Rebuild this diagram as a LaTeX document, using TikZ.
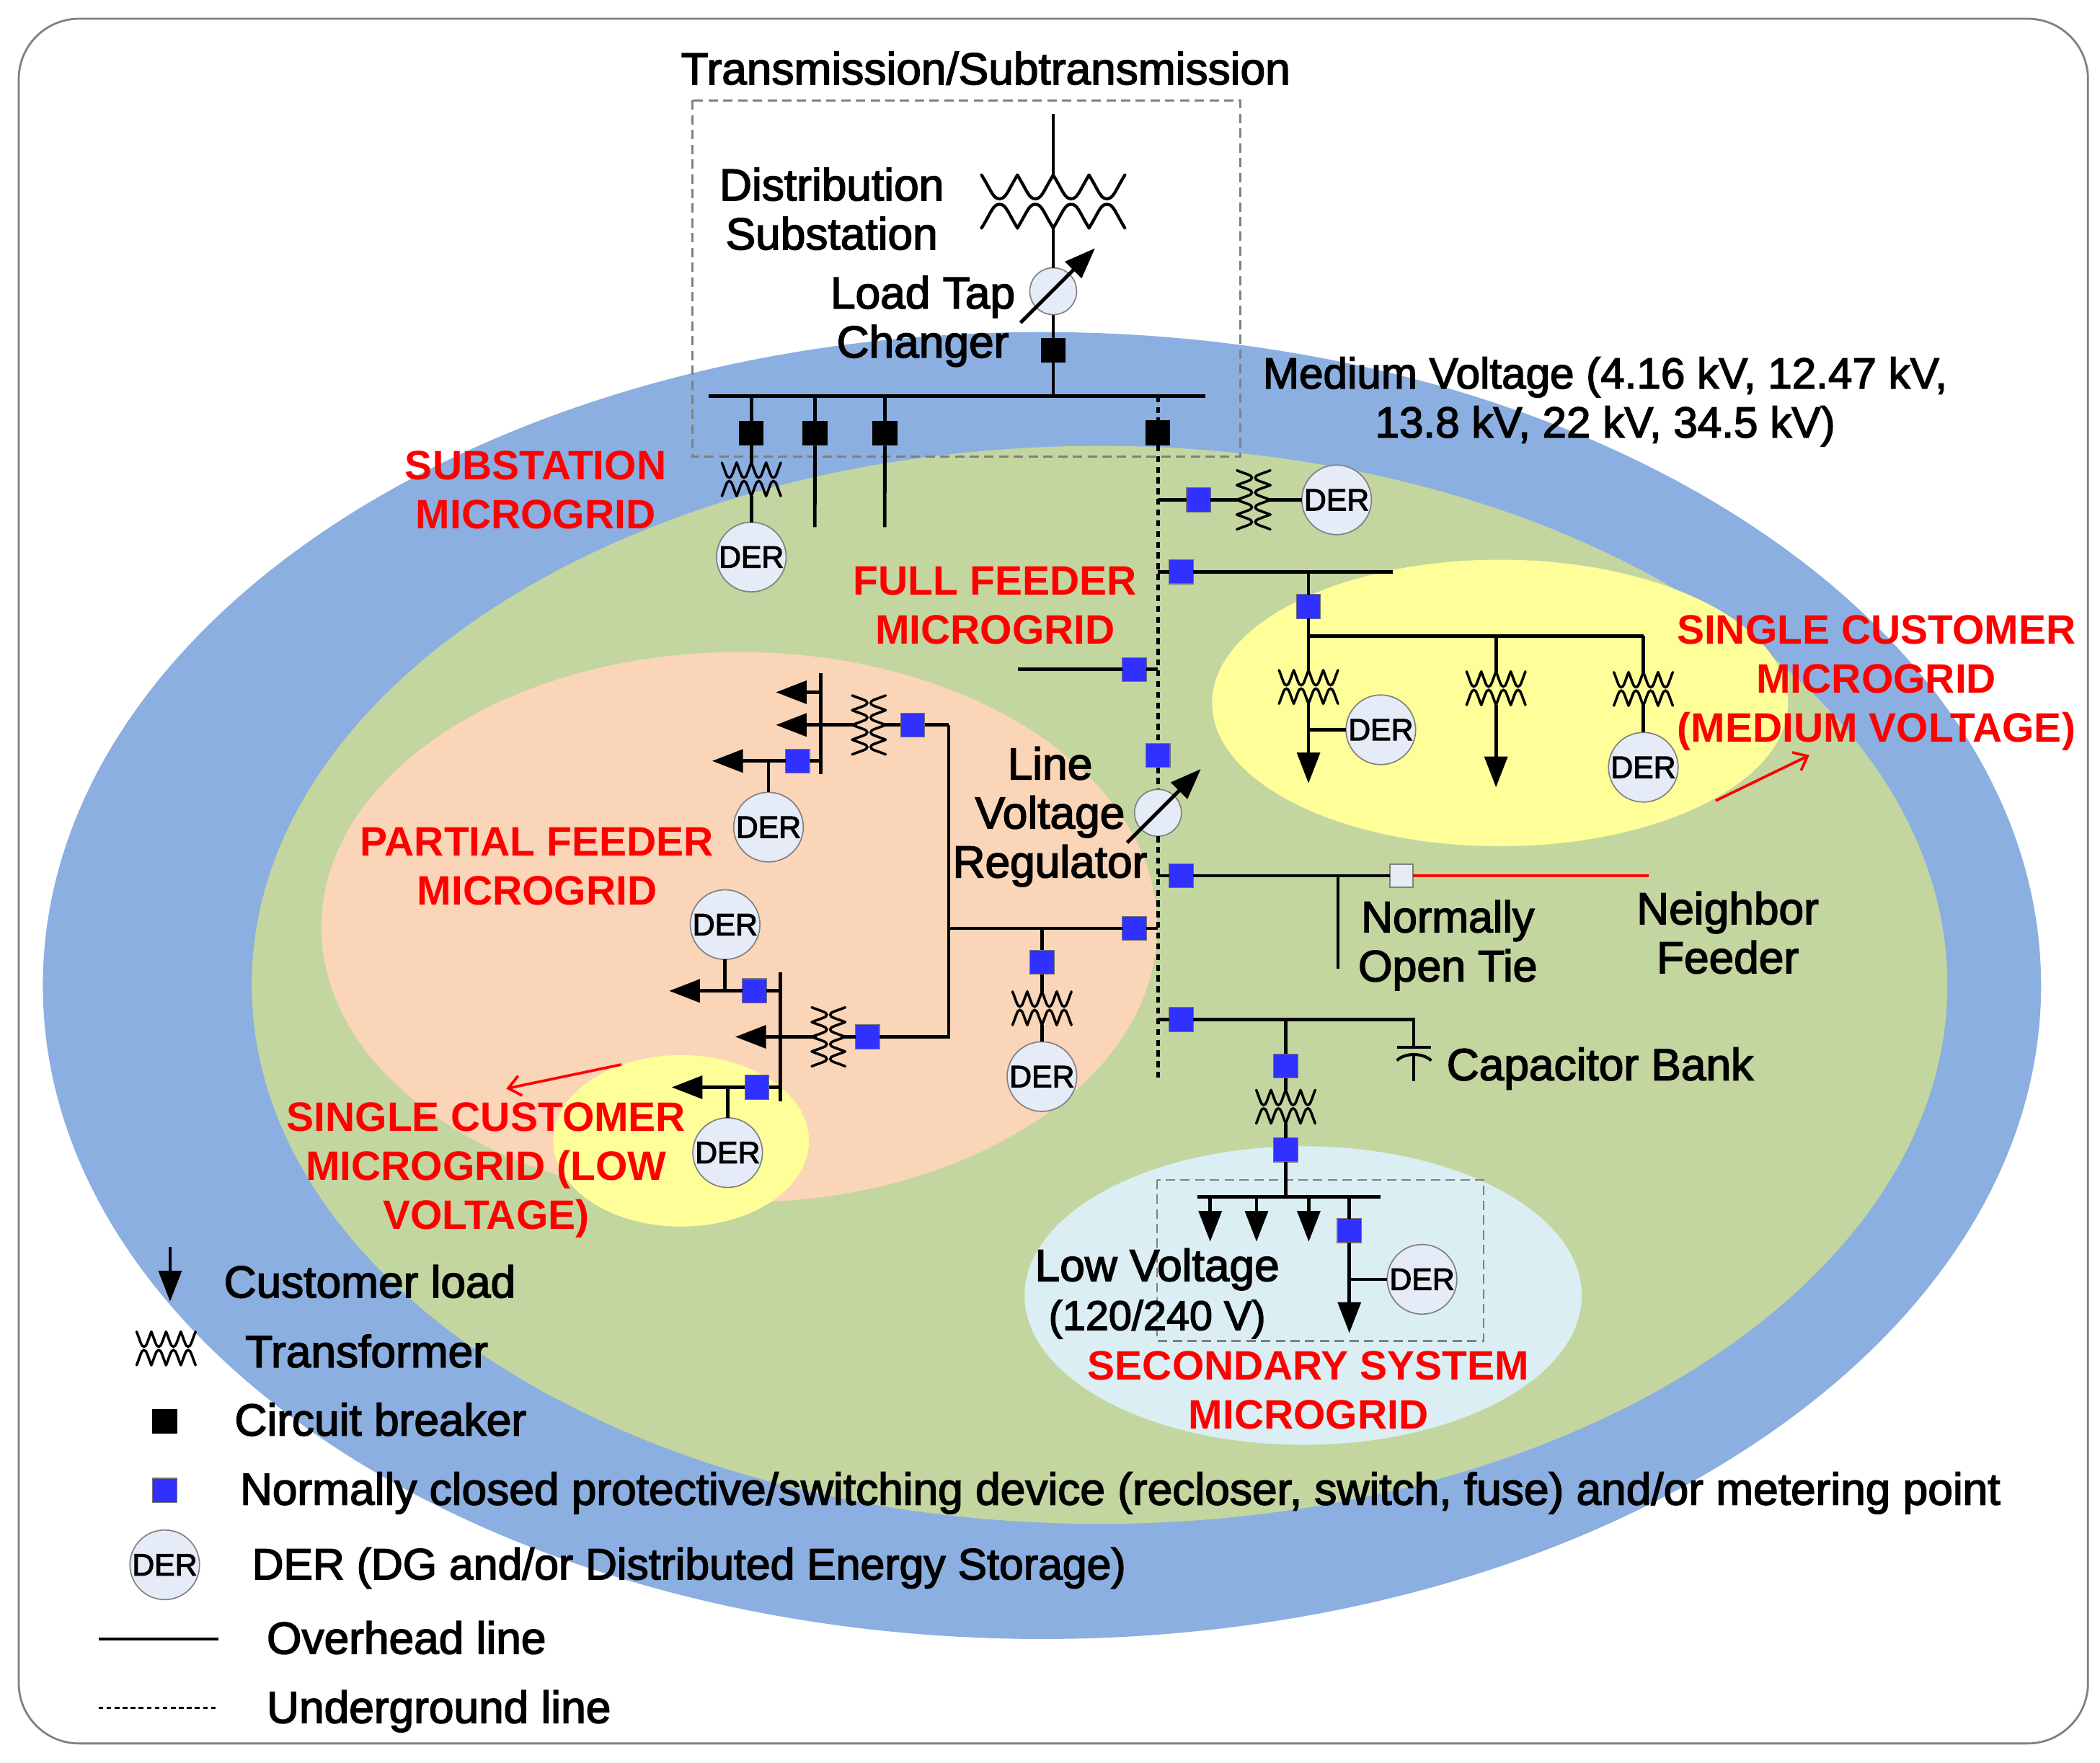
\documentclass[tikz,border=0pt]{standalone}
\usepackage{fontspec}
\setmainfont{Liberation Sans}[FakeBold=2.5]
\newfontfamily\notefont{Liberation Sans}
\usetikzlibrary{positioning, shapes.geometric, arrows.meta}
\definecolor{mvblue}{HTML}{8CAFE1}
\definecolor{ffgreen}{HTML}{C3D69F}
\definecolor{pfpeach}{HTML}{FBD5B7}
\definecolor{scyellow}{HTML}{FFFF99}
\definecolor{sslight}{HTML}{DAEEF3}
\definecolor{derfill}{HTML}{E5EBF7}
\definecolor{swblue}{HTML}{3030FF}
\tikzset{
	zone/.style={ellipse, inner sep=0, outer sep=0},
	brk/.style={rectangle, fill=black, minimum size=18.5pt, inner sep=0, outer sep=0},
	sw/.style={rectangle, fill=swblue, draw=black!55, line width=0.6pt, minimum size=18pt, inner sep=0, outer sep=0},
	der/.style={circle, fill=derfill, draw=black!50, line width=0.9pt, minimum size=52pt, inner sep=0, outer sep=0, font=\fontsize{23}{23}\selectfont},
	reg/.style={circle, fill=derfill, draw=black!50, line width=0.9pt, minimum size=35pt, inner sep=0, outer sep=0},
	tv/.style={rectangle, minimum width=44pt, minimum height=25pt, inner sep=0, outer sep=0},
	th/.style={rectangle, minimum width=18pt, minimum height=44pt, inner sep=0, outer sep=0},
	oh/.style={line width=2.6pt},
	ug/.style={line width=2.6pt, dash pattern=on 4.5pt off 3.5pt},
	load/.style={oh, -{Triangle[length=23pt,width=17pt]}},
	adj/.style={line width=2.6pt, -{Triangle[length=23pt,width=17pt]}},
	box/.style={draw=black!50, line width=1.3pt, dash pattern=on 7pt off 4pt},
	txt/.style={font=\fontsize{33.5}{36.6}\selectfont, align=center, inner sep=0},
	note/.style={txt, text=red, font=\notefont\bfseries\fontsize{30.7}{36.6}\selectfont},
	key/.style={txt, anchor=west},
	pointer/.style={red, line width=2pt, -{Straight Barb[length=9pt,width=15pt]}},
	xfmr/.pic={
		\foreach \i in {-2,-1,0,1}{
			\draw[line cap=round] (11*\i,-12.5) .. controls (11*\i+3,-5) and (11*\i+3.5,-1.3) .. (11*\i+5.5,-1.3) .. controls (11*\i+7.5,-1.3) and (11*\i+8,-5) .. (11*\i+11,-12.5);
			\draw[line cap=round] (11*\i,12.5) .. controls (11*\i+3,5) and (11*\i+3.5,1.3) .. (11*\i+5.5,1.3) .. controls (11*\i+7.5,1.3) and (11*\i+8,5) .. (11*\i+11,12.5);
		}
	},
}
\begin{document}
\begin{tikzpicture}[x=1pt,y=-1pt]
	\useasboundingbox (0,0) rectangle (1568,1316.5);
	\draw[black!50, line width=1.5pt, rounded corners=45pt] (14,14) rectangle (1559,1302);

	\node[zone, fill=mvblue, minimum width=1492pt, minimum height=976pt] (mv) at (778,736) {};
	\node[zone, fill=ffgreen, minimum width=1266pt, minimum height=805pt] (ff) at (821,735.5) {};
	\node[zone, fill=pfpeach, minimum width=624pt, minimum height=411pt] (pf) at (552,692.5) {};
	\node[zone, fill=scyellow, minimum width=430pt, minimum height=214pt] (sc1) at (1120,525) {};
	\node[zone, fill=scyellow, minimum width=191pt, minimum height=128pt] (sc2) at (508.5,852) {};
	\node[zone, fill=sslight, minimum width=416pt, minimum height=223pt] (ss) at (973,967.5) {};
	\draw[box] (517,75) rectangle (926,341);
	\draw[box] (864,881) rectangle (1107.7,1001.5);

	\coordinate (hv) at (786.4,85);
	\node[tv, minimum width=107pt, minimum height=39.5pt] (t0) at (786.4,150.5) {};
	\node[reg] (ltc) at (786.4,217.5) {};
	\node[brk] (b0) at (786.4,261.6) {};
	\coordinate (busL) at (529,295.9);
	\coordinate (busR) at (900,295.9);
	\node[brk] (b1) at (561,323.6) {};
	\node[brk] (b2) [right = 29pt of b1] {};
	\node[brk] (b3) [right = 33.7pt of b2] {};
	\node[brk] (b4) at (864.6,323.3) {};
	\node[tv] (t1) at (561,358) {};
	\node[der] (d1) [below = 19.5pt of t1] {DER};
	\coordinate (e2) at (608.4,393.7);
	\coordinate (e3) at (660.6,393.7);
	\coordinate (mEnd) at (864.6,804.5);

	\pic[line width=2.3pt, xscale=2.43, yscale=1.58] at (t0) {xfmr};
	\pic[line width=1.9pt] at (t1) {xfmr};
	\draw[oh] (hv) -- (t0) -- (ltc);
	\draw[oh] (ltc) -- (b0) -- (b0 |- busL);
	\draw[oh] (busL) -- (busR);
	\draw[oh] (b1 |- busL) -- (b1) -- (t1) -- (d1);
	\draw[oh] (b2 |- busL) -- (b2) -- (e2);
	\draw[oh] (b3 |- busL) -- (b3) -- (e3);

	\node[sw] (s1) at (895,373.3) {};
	\node[th] (t2) at (936,373.3) {};
	\node[der] (d2) at (998,373.3) {DER};
	\pic[line width=1.9pt, rotate=90] at (t2) {xfmr};
	\draw[oh] (s1 -| b4) -- (s1) -- (t2) -- (d2);

	\node[sw] (s2) at (882,427) {};
	\coordinate (e4) at (1040,427);
	\node[sw] (s3) at (977,453) {};
	\coordinate (j2) at (977,475);
	\coordinate (j3) at (1117,475);
	\coordinate (j4) at (1227,475);
	\node[tv] (t3) at (977,513) {};
	\node[tv] (t4) at (1117,514) {};
	\node[tv] (t5) at (1227,514.5) {};
	\coordinate (a1) at (977,585);
	\coordinate (a2) at (1117,588);
	\node[der] (d3) at (1031,545) {DER};
	\node[der] (d4) [below = 20pt of t5] {DER};
	\foreach \t in {t3,t4,t5}{
		\pic[line width=1.9pt] at (\t) {xfmr};
	}
	\draw[oh] (s2 -| b4) -- (s2) -- (e4);
	\draw[oh] (s3 |- s2) -- (s3) -- (j2) -- (j3) -- (j4);
	\draw[load] (j2) -- (t3) -- (a1);
	\draw[load] (j3) -- (t4) -- (a2);
	\draw[oh] (j4) -- (t5) -- (d4);
	\draw[oh] (d3 -| t3) -- (d3);

	\node[sw] (s4) at (847,500) {};
	\coordinate (e5) at (760,500);
	\draw[oh] (e5) -- (s4) -- (s4 -| b4);

	\node[sw] (s5) at (864.6,564) {};
	\node[reg] (r1) at (864.6,607) {};
	\draw[ug] (b4 |- busL) -- (b4);
	\draw[ug] (b4) -- (s5);
	\draw[ug] (s5) -- (r1);
	\draw[ug] (r1) -- (mEnd);
	\coordinate (ltcA) at (762,241);
	\coordinate (ltcB) at (817.6,185.4);
	\coordinate (r1A) at (841.6,629.3);
	\coordinate (r1B) at (896.6,574.3);
	\draw[adj] (ltcA) -- (ltcB);
	\draw[adj] (r1A) -- (r1B);

	\node[sw] (s6) at (882,654) {};
	\coordinate (j5) at (999,654);
	\node[rectangle, fill=derfill, draw=black!50, line width=1pt, minimum size=17pt, inner sep=0, outer sep=0] (nt) at (1046.5,654) {};
	\coordinate (e6) at (1231,654);
	\coordinate (e7) at (999,723.5);
	\draw[oh] (s6 -| b4) -- (s6) -- (j5) -- (nt);
	\draw[oh] (j5) -- (e7);
	\draw[oh, red] (nt) -- (e6);

	\node[sw] (s7) at (847,693.3) {};
	\coordinate (j6) at (708.4,693.3);
	\coordinate (j7) at (778,693.3);
	\node[sw] (s8) at (778,718.5) {};
	\node[tv] (t6) at (778,753) {};
	\node[der] (d5) at (778,804) {DER};
	\pic[line width=1.9pt] at (t6) {xfmr};
	\draw[oh] (j6) -- (s7) -- (s7 -| b4);
	\draw[oh] (j7) -- (s8) -- (t6) -- (d5);

	\coordinate (c1) at (708.4,541.4);
	\node[sw] (s9) at (681.4,541.4) {};
	\node[th] (t7) at (648.8,541.4) {};
	\coordinate (a3) at (579.3,541.4);
	\coordinate (p1) at (612.8,503);
	\coordinate (p2) at (612.8,578);
	\coordinate (j8a) at (612.8,517);
	\coordinate (a4) at (579.3,517);
	\node[sw] (s10) at (595.5,568.3) {};
	\coordinate (j9) at (573.8,568.3);
	\coordinate (a5) at (531.7,568.3);
	\node[der] (d6) at (573.8,617.7) {DER};
	\pic[line width=1.9pt, rotate=90] at (t7) {xfmr};
	\draw[oh] (c1) -- (j6);
	\draw[oh] (c1) -- (s9) -- (t7);
	\draw[load] (t7) -- (a3);
	\draw[oh] (p1) -- (p2);
	\draw[load] (j8a) -- (a4);
	\draw[oh] (s10 -| p1) -- (s10);
	\draw[load] (s10) -- (a5);
	\draw[oh] (j9) -- (d6);

	\coordinate (c2) at (708.4,774.3);
	\node[sw] (s11) at (647.7,774.3) {};
	\node[th] (t8) at (618.6,774.3) {};
	\coordinate (a6) at (549,774.3);
	\coordinate (p3) at (582.6,726);
	\coordinate (p4) at (582.6,822.4);
	\node[sw] (s12) at (563.3,740) {};
	\coordinate (a7) at (499.6,740);
	\coordinate (j10) at (541.4,740);
	\node[der] (d7) at (541.4,690.5) {DER};
	\node[sw] (s13) at (565.3,812) {};
	\coordinate (a8) at (501.5,812);
	\coordinate (j11) at (543.3,812);
	\node[der] (d8) at (543.3,860.8) {DER};
	\pic[line width=1.9pt, rotate=90] at (t8) {xfmr};
	\draw[oh] (j6) -- (c2) -- (s11) -- (t8);
	\draw[load] (t8) -- (a6);
	\draw[oh] (p3) -- (p4);
	\draw[oh] (s12 -| p3) -- (s12);
	\draw[load] (s12) -- (a7);
	\draw[oh] (j10) -- (d7);
	\draw[oh] (s13 -| p3) -- (s13);
	\draw[load] (s13) -- (a8);
	\draw[oh] (j11) -- (d8);

	\node[sw] (s14) at (882,761.4) {};
	\coordinate (j12) at (960,761.4);
	\coordinate (c3) at (1055.5,761.4);
	\coordinate (capT) at (1055.5,782.3);
	\coordinate (capL) at (1043,782.3);
	\coordinate (capR) at (1068.7,782.3);
	\coordinate (capA) at (1043,792);
	\coordinate (capB) at (1068.7,792);
	\coordinate (capC) at (1055.5,787);
	\coordinate (capD) at (1055.5,807.3);
	\node[sw] (s15) at (960,796) {};
	\node[tv] (t9) at (960,826.5) {};
	\node[sw] (s16) at (960,858.7) {};
	\coordinate (j13) at (960,893.8);
	\coordinate (p5) at (894,893.8);
	\coordinate (p6) at (1030.8,893.8);
	\coordinate (a9) at (903.6,927.3);
	\coordinate (a10) at (938.2,927.3);
	\coordinate (a11) at (977.2,927.3);
	\node[sw] (s17) at (1007.5,919) {};
	\coordinate (a12) at (1007.5,995.5);
	\coordinate (j14) at (1007.5,955.4);
	\node[der] (d9) at (1061.8,955.4) {DER};
	\pic[line width=1.9pt] at (t9) {xfmr};
	\draw[oh] (s14 -| b4) -- (s14) -- (c3) -- (capT);
	\draw[line width=2.2pt] (capL) -- (capR);
	\draw[line width=2.2pt] (capA) .. controls (1049,786) and (1062,786) .. (capB);
	\draw[oh] (capC) -- (capD);
	\draw[oh] (j12) -- (s15) -- (t9) -- (s16) -- (j13);
	\draw[oh] (p5) -- (p6);
	\draw[load] (a9 |- p5) -- (a9);
	\draw[load] (a10 |- p5) -- (a10);
	\draw[load] (a11 |- p5) -- (a11);
	\draw[oh] (s17 |- p5) -- (s17);
	\draw[load] (s17) -- (a12);
	\draw[oh] (j14) -- (d9);

	\coordinate (pt1) at (1281,598);
	\coordinate (pt2) at (1351,564);
	\coordinate (pt3) at (464,795);
	\coordinate (pt4) at (378,813);
	\draw[pointer] (pt1) -- (pt2);
	\draw[pointer] (pt3) -- (pt4);

	\node[txt] (lTrans) at (736,51) {Transmission/Subtransmission};
	\node[txt] (lDist) at (621,156) {Distribution\\Substation};
	\node[txt] (lLtc) at (689,240) {Load Tap\\Changer};
	\node[txt, font=\fontsize{32.4}{36.6}\selectfont] (lMv) at (1198.5,300) {Medium Voltage (4.16 kV, 12.47 kV,\\13.8 kV, 22 kV, 34.5 kV)};
	\node[note] (lSub) at (400,366) {SUBSTATION\\MICROGRID};
	\node[note] (lFull) at (743,452) {FULL FEEDER\\MICROGRID};
	\node[note] (lSc1) at (1401,510) {SINGLE CUSTOMER\\MICROGRID\\(MEDIUM VOLTAGE)};
	\node[note] (lPart) at (401,647) {PARTIAL FEEDER\\MICROGRID};
	\node[txt] (lLine) at (784,610) {Line\\Voltage\\Regulator};
	\node[txt, font=\fontsize{32.8}{36.6}\selectfont] (lOpen) at (1081,706) {Normally\\Open Tie};
	\node[txt] (lNeigh) at (1290,696.5) {Neighbor\\Feeder};
	\node[key] (lCap) at (1080,798) {Capacitor Bank};
	\node[note] (lSc2) at (363,874) {SINGLE CUSTOMER\\MICROGRID (LOW\\VOLTAGE)};
	\node[txt] (lLow) at (864,966) {Low Voltage\\{\fontsize{31}{36.6}\selectfont (120/240 V)}};
	\node[note] (lSec) at (977,1038.5) {SECONDARY SYSTEM\\MICROGRID};

	\coordinate (k1A) at (127,931);
	\coordinate (k1B) at (127,972);
	\draw[load] (k1A) -- (k1B);
	\node[tv] (k2) at (124,1007) {};
	\pic[line width=1.9pt] at (k2) {xfmr};
	\node[brk] (k3) at (123,1061.5) {};
	\node[sw] (k4) at (123,1113) {};
	\node[der] (k5) at (123,1168.6) {DER};
	\coordinate (k6A) at (73.6,1224);
	\coordinate (k6B) at (163,1224);
	\draw[oh] (k6A) -- (k6B);
	\coordinate (k7A) at (73.6,1275.6);
	\coordinate (k7B) at (163,1275.6);
	\draw[line width=1.5pt, dash pattern=on 3.5pt off 2.5pt] (k7A) -- (k7B);
	\node[key] (lk1) at (167,957) {Customer load};
	\node[key] (lk2) at (183,1009) {Transformer};
	\node[key] (lk3) at (175,1060) {Circuit breaker};
	\node[key] (lk4) at (179,1115) {Normally closed protective/switching device (recloser, switch, fuse) and/or metering point};
	\node[key, font=\fontsize{32.7}{36.6}\selectfont] (lk5) at (188,1171) {DER (DG and/or Distributed Energy Storage)};
	\node[key] (lk6) at (199,1223) {Overhead line};
	\node[key] (lk7) at (199,1278) {Underground line};
\end{tikzpicture}
\end{document}
